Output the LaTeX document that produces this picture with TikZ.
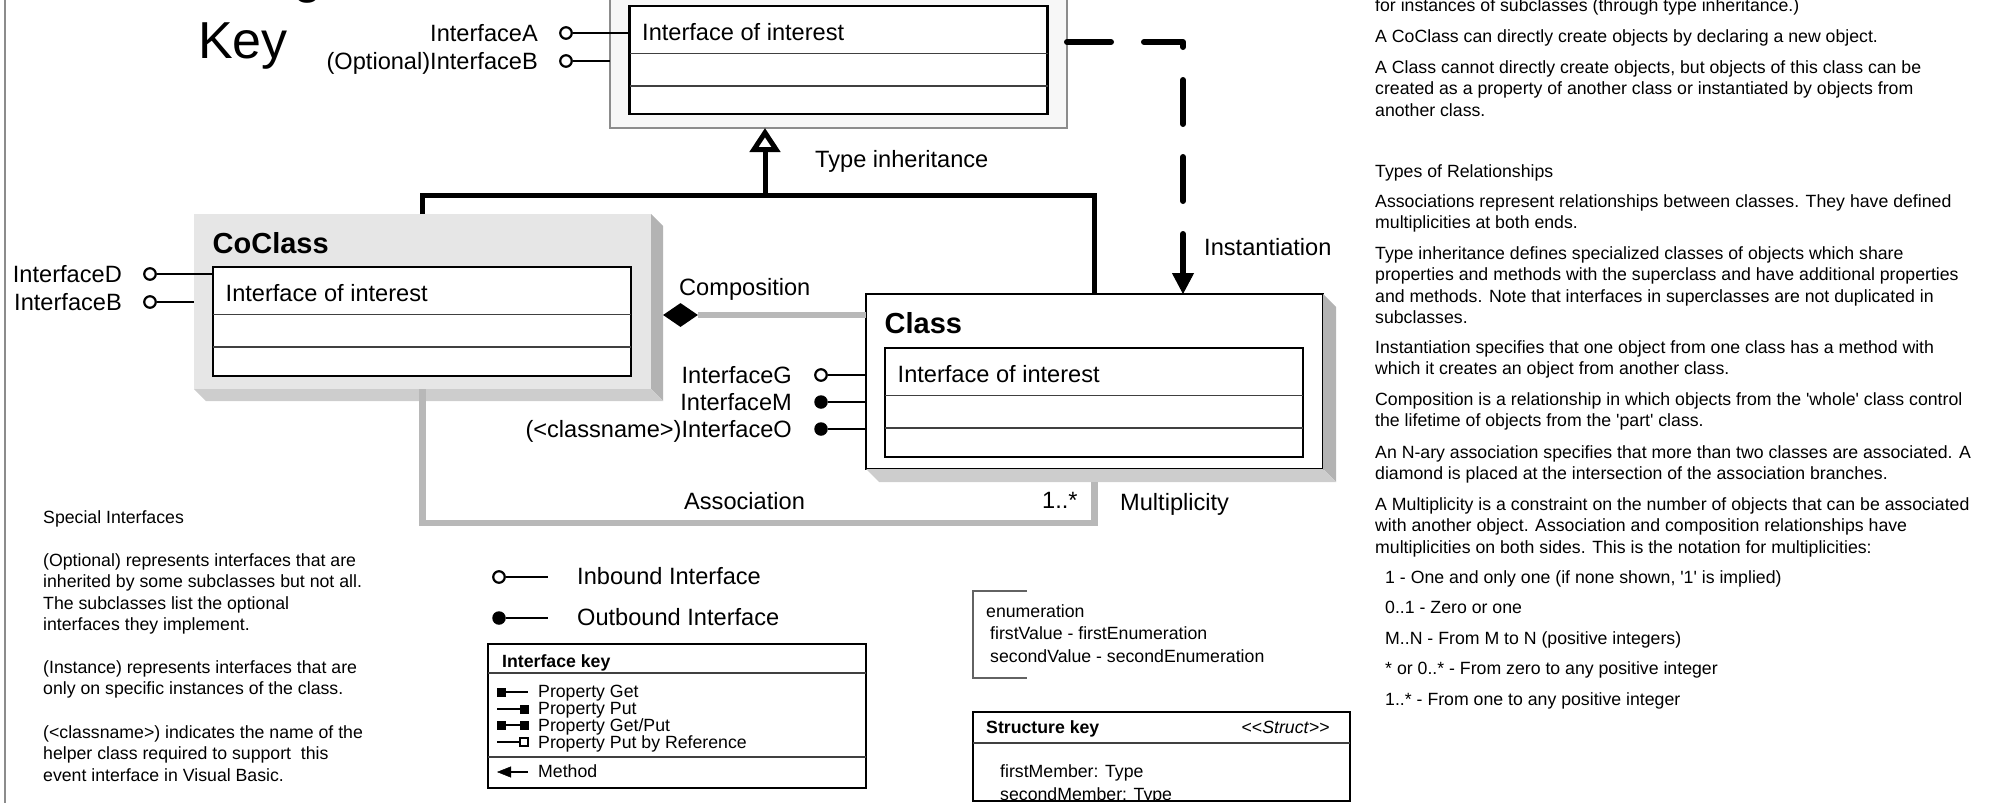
\documentclass[tikz,border=0pt]{standalone}
\usepackage{fontspec}
\setmainfont{Liberation Sans}
\usetikzlibrary{arrows.meta,shapes.geometric}

\definecolor{faceGray}{HTML}{E6E6E6}
\definecolor{sideGray}{HTML}{B3B3B3}
\definecolor{baseGray}{HTML}{CDCDCD}
\definecolor{linkGray}{HTML}{B8B8B8}
\definecolor{paleGray}{HTML}{F7F7F7}
\definecolor{rimGray}{HTML}{8C8C8C}

\newcommand\lblfont{\fontsize{23.6pt}{28pt}\selectfont}
\newcommand\notefont{\fontsize{17.7pt}{21.5pt}\selectfont}
\newcommand\titlefont{\fontsize{29pt}{34pt}\selectfont\bfseries}
\newcommand\keyfont{\fontsize{52pt}{62pt}\selectfont}

% 3d edge right of and below a box
\newcommand\boxbevel[2]{%
  \fill[sideGray] (#1.north east) -- ++(#2,#2) -- ([xshift=#2pt,yshift=-#2pt]#1.south east) -- (#1.south east) -- cycle;
  \fill[baseGray] (#1.south west) -- ++(#2,#2) -- ([xshift=#2pt,yshift=-#2pt]#1.south east) -- (#1.south east) -- cycle;}
% the two lines inside an interface box
\newcommand\slotrows[1]{%
  \draw[rowline] ([yshift=-47.5pt]#1.north west) -- ([yshift=-47.5pt]#1.north east);
  \draw[rowline] ([yshift=-80pt]#1.north west) -- ([yshift=-80pt]#1.north east);}

\tikzset{
  txt/.style={inner sep=0pt,font=\lblfont},
  note/.style={inner sep=0pt,font=\notefont,align=left,anchor=base west},
  face/.style={rectangle,inner sep=0pt,outer sep=0pt,minimum width=457pt,minimum height=175pt},
  slot/.style={rectangle,draw,fill=white,line width=2.2pt,inner sep=0pt,outer sep=0pt,minimum width=418pt,minimum height=109pt},
  rowline/.style={line width=1.2pt,black!75},
  inbound/.style={circle,draw,fill=white,line width=2.2pt,minimum size=11.5pt,inner sep=0pt},
  outbound/.style={circle,fill=black,minimum size=13.5pt,inner sep=0pt},
  ifline/.style={line width=2.2pt},
  typeline/.style={line width=5pt},
  instline/.style={line width=6pt,line cap=round,line join=round,dash pattern=on 44pt off 33pt},
  grayline/.style={line width=6.5pt,linkGray},
  keybox/.style={rectangle,draw,line width=2.5pt,inner sep=0pt,outer sep=0pt}
}

\begin{document}
\begin{tikzpicture}[x=1pt,y=-1pt]
\useasboundingbox (0,0) rectangle (1992,803);
\draw[rimGray,line width=1.5pt] (5,0) -- (5,803);

% title
\node[txt,font=\keyfont,anchor=base west] (title) at (215,-7) {Diagram};
\node[txt,font=\keyfont,anchor=base west] (keyword) at (198,58) {Key};

% superclass
\node[rectangle,draw=rimGray,fill=paleGray,line width=1.2pt,inner sep=0pt,outer sep=0pt,minimum width=457pt,minimum height=158pt] (super) at (838.5,49) {};
\node[slot,minimum height=108pt] (superin) at (838.5,60) {};
\slotrows{superin}
\node[txt,anchor=base west] (superif) at ([xshift=12.5pt,yshift=-34pt]superin.north west) {Interface of interest};

\node[inbound] (ifA) at (566,33) {};
\node[txt,anchor=base east] (ifAlbl) at (538,41) {InterfaceA};
\draw[ifline] (ifA) -- (ifA -| superin.west);
\node[inbound] (ifB) at (566,61) {};
\node[txt,anchor=base east] (ifBlbl) at (538,69) {(Optional)InterfaceB};
\draw[ifline] (ifB) -- (ifB -| super.west);

% coclass
\node[face,fill=faceGray] (coclass) at (422.5,301.5) {};
\boxbevel{coclass}{12}
\node[txt,font=\titlefont,anchor=base west] (cotitle) at ([xshift=18.5pt,yshift=-39.5pt]coclass.north west) {CoClass};
\node[slot] (coin) at (422,321.5) {};
\slotrows{coin}
\node[txt,anchor=base west] (coif) at ([xshift=12.5pt,yshift=-34pt]coin.north west) {Interface of interest};

\node[inbound] (ifD) at (150,274) {};
\node[txt,anchor=base east] (ifDlbl) at (122,282) {InterfaceD};
\draw[ifline] (ifD) -- (ifD -| coin.west);
\node[inbound] (ifB2) at (150,302) {};
\node[txt,anchor=base east] (ifB2lbl) at (122,310) {InterfaceB};
\draw[ifline] (ifB2) -- (ifB2 -| coclass.west);

% class
\node[face,draw,fill=white,line width=1.5pt] (class) at (1094.5,381.5) {};
\boxbevel{class}{13}
\node[txt,font=\titlefont,anchor=base west] (cltitle) at ([xshift=18.5pt,yshift=-39.5pt]class.north west) {Class};
\node[slot] (clin) at (1094,402.5) {};
\slotrows{clin}
\node[txt,anchor=base west] (clif) at ([xshift=12.5pt,yshift=-34pt]clin.north west) {Interface of interest};

\node[inbound] (ifG) at (821,375) {};
\node[txt,anchor=base east] (ifGlbl) at (792,383) {InterfaceG};
\draw[ifline] (ifG) -- (ifG -| class.west);
\node[outbound] (ifM) at (821,402) {};
\node[txt,anchor=base east] (ifMlbl) at (792,410) {InterfaceM};
\draw[ifline] (ifM) -- (ifM -| class.west);
\node[outbound] (ifO) at (821,429) {};
\node[txt,anchor=base east] (ifOlbl) at (792,437) {(<classname>)InterfaceO};
\draw[ifline] (ifO) -- (ifO -| class.west);

% type inheritance
\coordinate (inhY) at (0,195);
\coordinate (inhTop) at (765,195);
\draw[typeline] (coclass.north) -- (coclass.north |- inhY) -- (class.north |- inhY) -- (class.north);
\draw[typeline,-{Triangle[open,length=24pt,width=30pt]}] (inhTop) -- (inhTop |- super.south);
\node[txt,anchor=base west] (inhlbl) at (815,167) {Type inheritance};

% instantiation
\coordinate (instC) at (1183,42);
\draw[instline,-{Triangle[length=21pt,width=22pt,line width=1pt]}] (super.east |- instC) -- (instC) -- (instC |- class.north);
\node[txt,anchor=base west] (instlbl) at (1204,255) {Instantiation};

% composition
\node[diamond,fill=black,minimum width=35pt,minimum height=24pt,inner sep=0pt] (comp) at (680.5,315) {};
\draw[grayline] (comp) -- (comp -| class.west);
\node[txt,anchor=base west] (complbl) at (679,295) {Composition};

% association
\coordinate (assocY) at (0,523);
\coordinate (classfoot) at ([yshift=-13pt]class.south);
\draw[grayline] (coclass.south) -- (coclass.south |- assocY) -- (classfoot |- assocY) -- (classfoot);
\node[txt,anchor=base west] (assoclbl) at (684,509) {Association};
\node[txt,anchor=base west] (multnum) at (1042,508) {1..*};
\node[txt,anchor=base west] (multlbl) at (1120,510) {Multiplicity};

% special interfaces (multi-line notes sit on their last line)
\node[note] (spec) at (43,523) {Special Interfaces};
\node[note] (spec1) at (43,630.5) {(Optional) represents interfaces that are\\inherited by some subclasses but not all.\\The subclasses list the optional\\interfaces they implement.};
\node[note] (spec2) at (43,694.5) {(Instance) represents interfaces that are\\only on specific instances of the class.};
\node[note] (spec3) at (43,781) {(<classname>) indicates the name of the\\helper class required to support~ this\\event interface in Visual Basic.};

% inbound / outbound
\node[inbound] (inleg) at (499,577) {};
\coordinate (inlegE) at (548,577);
\draw[ifline] (inleg) -- (inlegE);
\node[txt,anchor=base west] (inleglbl) at (577,584) {Inbound Interface};
\node[outbound] (outleg) at (499,618) {};
\coordinate (outlegE) at (548,618);
\draw[ifline] (outleg) -- (outlegE);
\node[txt,anchor=base west] (outleglbl) at (577,625) {Outbound Interface};

% interface key
\node[keybox,minimum width=378pt,minimum height=144pt] (ikey) at (677,716) {};
\draw[rowline] ([yshift=-29pt]ikey.north west) -- ([yshift=-29pt]ikey.north east);
\draw[rowline] ([yshift=-113pt]ikey.north west) -- ([yshift=-113pt]ikey.north east);
\node[txt,font=\notefont\bfseries,anchor=base west] (ikeyh) at (502,667) {Interface key};
\foreach \y/\t [count=\i] in {697/Property Get,714/Property Put,731/{Property Get/Put},748/Property Put by Reference}
  \node[txt,font=\notefont,anchor=base west] (prop\i) at (538,\y) {\t};
\fill (497,687.5) rectangle (506,696.5);
\draw[ifline] (506,692) -- (528,692);
\draw[ifline] (497,709) -- (520,709);
\fill (520,704.5) rectangle (529,713.5);
\fill (497,720.5) rectangle (506,729.5);
\draw[ifline] (506,725) -- (520,725);
\fill (520,720.5) rectangle (529,729.5);
\draw[ifline] (497,742) -- (520,742);
\draw[line width=1.8pt,fill=white] (520,738) rectangle (528,746);
\coordinate (mtail) at (528,772);
\coordinate (mhead) at (497,772);
\draw[ifline,-{Triangle[length=14pt,width=11pt,line width=0.5pt]}] (mtail) -- (mhead);
\node[txt,font=\notefont,anchor=base west] (methlbl) at (538,777) {Method};

% enumeration
\draw[rimGray!70!black,line width=1.5pt] (1027,591) -- (973,591) -- (973,678) -- (1027,678);
\node[note] (enum) at (986,617) {enumeration};
\node[note] (enum1) at (990,639) {firstValue - firstEnumeration};
\node[note] (enum2) at (990,662) {secondValue - secondEnumeration};

% structure key
\node[keybox,minimum width=377pt,minimum height=89pt] (skey) at (1161.5,756.5) {};
\draw[rowline] ([yshift=-31pt]skey.north west) -- ([yshift=-31pt]skey.north east);
\node[txt,font=\notefont\bfseries,anchor=base west] (skeyh) at (986,733) {Structure key};
\node[txt,font=\notefont,anchor=base east] (skeyst) at (1330,733) {<{}<\textit{Struct}>{}>};
\begin{scope}
  \clip (skey.north west) rectangle ([yshift=1.25pt]skey.south east);
  \node[note] (mem1) at (1000,777) {firstMember: Type};
  \node[note] (mem2) at (1000,800) {secondMember: Type};
\end{scope}

% notes on the right
\node[note] (r0) at (1375,12) {for instances of subclasses (through type inheritance.)};
\node[note] (r1) at (1375,42) {A CoClass can directly create objects by declaring a new object.};
\node[note] (r2) at (1375,116) {A Class cannot directly create objects, but objects of this class can be\\created as a property of another class or instantiated by objects from\\another class.};
\node[note] (r3) at (1375,177) {Types of Relationships};
\node[note] (r4) at (1375,228.5) {Associations represent relationships between classes. They have defined\\multiplicities at both ends.};
\node[note] (r5) at (1375,323.5) {Type inheritance defines specialized classes of objects which share\\properties and methods with the superclass and have additional properties\\and methods. Note that interfaces in superclasses are not duplicated in\\subclasses.};
\node[note] (r6) at (1375,374.5) {Instantiation specifies that one object from one class has a method with\\which it creates an object from another class.};
\node[note] (r7) at (1375,426.5) {Composition is a relationship in which objects from the \textquotesingle whole\textquotesingle{} class control\\the lifetime of objects from the \textquotesingle part\textquotesingle{} class.};
\node[note] (r8) at (1375,479.5) {An N-ary association specifies that more than two classes are associated. A\\diamond is placed at the intersection of the association branches.};
\node[note] (r9) at (1375,553) {A Multiplicity is a constraint on the number of objects that can be associated\\with another object. Association and composition relationships have\\multiplicities on both sides. This is the notation for multiplicities:};
\node[note] (m1) at (1385,583) {1 - One and only one (if none shown, \textquotesingle 1\textquotesingle{} is implied)};
\node[note] (m2) at (1385,613) {0..1 - Zero or one};
\node[note] (m3) at (1385,644) {M..N - From M to N (positive integers)};
\node[note] (m4) at (1385,674) {* or 0..* - From zero to any positive integer};
\node[note] (m5) at (1385,705) {1..* - From one to any positive integer};
\end{tikzpicture}
\end{document}
